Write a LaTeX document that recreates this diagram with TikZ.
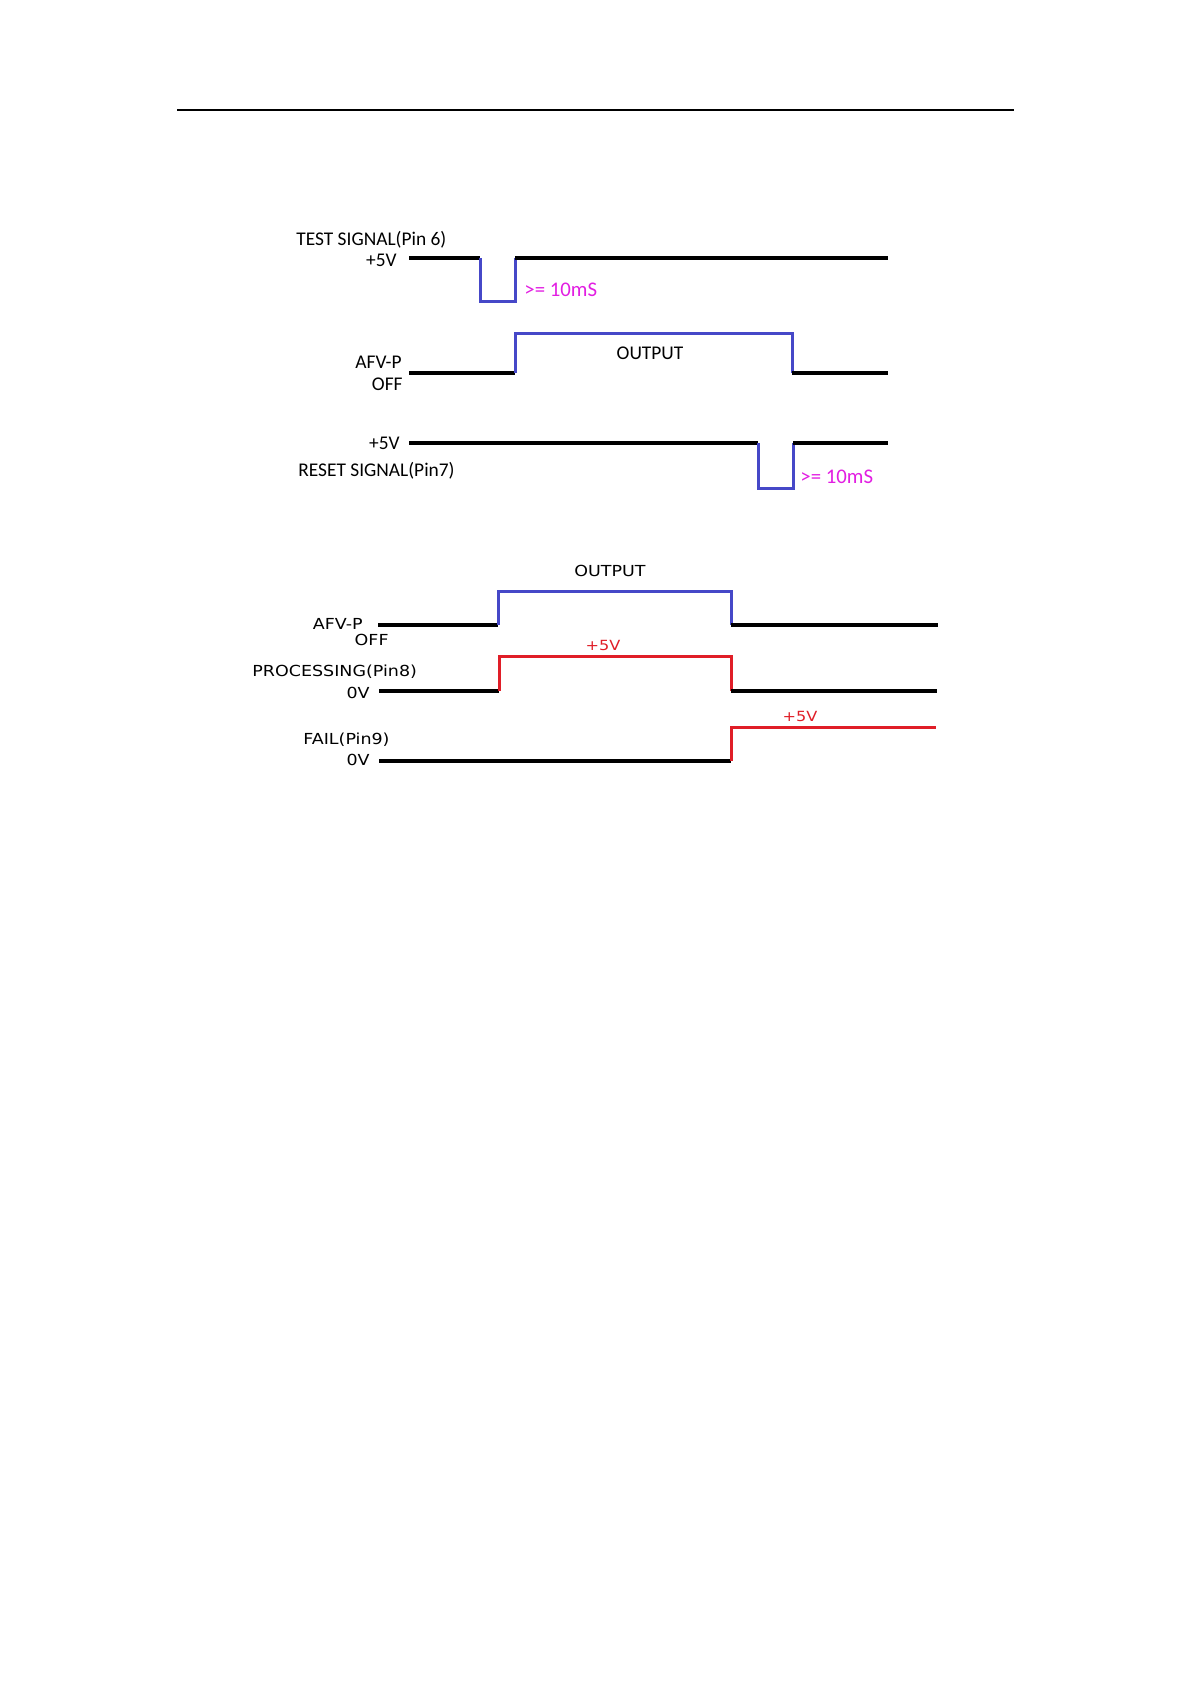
\documentclass[tikz,border=0pt]{standalone}
\usepackage{fontspec}
\usepackage{tikz}
\newfontfamily\topfont{Carlito}
\newfontfamily\lowfont[FakeStretch=1.15]{DejaVu Sans}
\definecolor{pulseblue}{RGB}{70,72,200}
\definecolor{levelred}{RGB}{224,30,40}
\definecolor{notemagenta}{RGB}{226,30,226}

\begin{document}
\begin{tikzpicture}[
      x=0.5pt,
      y=-0.5pt,
      inner sep=0pt,
      low/.style={line width=1.65pt,black},
      pulse/.style={line width=1.5pt,pulseblue},
      level/.style={line width=1.5pt,levelred},
      toptext/.style={font=\topfont\fontsize{9.7}{11}\selectfont},
      lowtext/.style={font=\lowfont\fontsize{7.6}{9}\selectfont},
      note/.style={font=\topfont\fontsize{10.4}{12}\selectfont,text=notemagenta},
      redtext/.style={font=\lowfont\fontsize{7}{9}\selectfont,text=levelred}
    ]
    \useasboundingbox [fill=white] (0,0) rectangle (1190,1684);
    \draw [line width=1.15pt] (177,110) -- (1014,110);

    \node (test)  [toptext,anchor=west] at (296,240) {TEST SIGNAL(Pin 6)};
    \node (test5) [toptext,anchor=east] at (397,260) {+5V};
    \node (testw) [note,anchor=west] at (524,290) {>= 10mS};
    \draw [low] (409,258) -- (480,258);
    \draw [pulse] (480,258) -- (480,302) -- (515,302) -- (515,258);
    \draw [low] (515,258) -- (888,258);

    \node (afv)    [toptext,anchor=east] at (402,362) {AFV-P};
    \node (afvoff) [toptext,anchor=east] at (403,384) {OFF};
    \node (afvout) [toptext] at (650,353) {OUTPUT};
    \draw [low] (409,373) -- (515,373);
    \draw [pulse] (515,373) -- (515,334) -- (792,334) -- (792,373);
    \draw [low] (792,373) -- (888,373);

    \node (reset5) [toptext,anchor=east] at (400,443) {+5V};
    \node (reset)  [toptext,anchor=west] at (298,471) {RESET SIGNAL(Pin7)};
    \node (resetw) [note,anchor=west] at (800,477) {>= 10mS};
    \draw [low] (409,443) -- (758,443);
    \draw [pulse] (758,443) -- (758,488) -- (793,488) -- (793,443);
    \draw [low] (793,443) -- (888,443);

    \node (out)    [lowtext] at (610,571) {OUTPUT};
    \node (afv2)   [lowtext,anchor=east] at (363,624) {AFV-P};
    \node (afv2off)[lowtext,anchor=east] at (389,640) {OFF};
    \draw [low] (378,625) -- (498,625);
    \draw [pulse] (498,625) -- (498,591) -- (731,591) -- (731,625);
    \draw [low] (731,625) -- (938,625);

    \node (proc5)  [redtext] at (603,645) {+5V};
    \node (proc)   [lowtext,anchor=west] at (252,672) {PROCESSING(Pin8)};
    \node (proc0)  [lowtext,anchor=east] at (370,693) {0V};
    \draw [low] (379,691) -- (499,691);
    \draw [level] (499,691) -- (499,656) -- (731,656) -- (731,691);
    \draw [low] (731,691) -- (937,691);

    \node (fail5)  [redtext] at (800,716) {+5V};
    \node (fail)   [lowtext,anchor=west] at (303,740) {FAIL(Pin9)};
    \node (fail0)  [lowtext,anchor=east] at (370,760) {0V};
    \draw [low] (379,761) -- (731,761);
    \draw [level] (731,761) -- (731,727) -- (936,727);
  \end{tikzpicture}
\end{document}
